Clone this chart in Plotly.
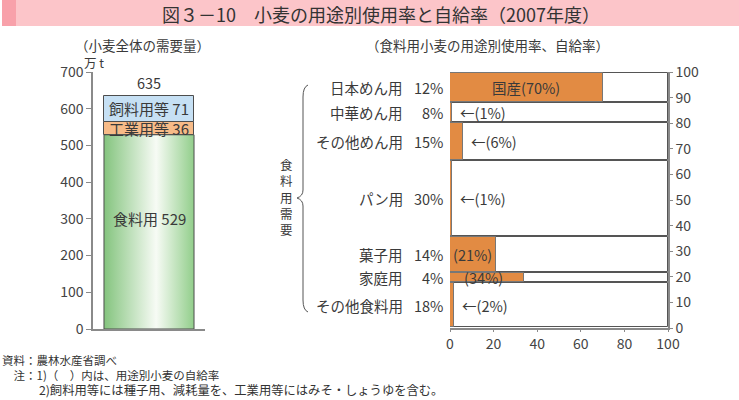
import plotly.graph_objects as go

W, H = 739, 400
FONT = "Noto Sans CJK JP"
TXT = "#3a3a3a"

# ---------- data ----------
# left: total wheat demand (10k t)
seg_names = ["食料用", "工業用等", "飼料用等"]
seg_values = [529, 36, 71]
total_label = 635
left_ticks = [0, 100, 200, 300, 400, 500, 600, 700]

# right: usage shares (%) and self-sufficiency rates (%)
uses = ["日本めん用", "中華めん用", "その他めん用", "パン用", "菓子用", "家庭用", "その他食料用"]
shares = [12, 8, 15, 30, 14, 4, 18]
rates = [70, 1, 6, 1, 21, 34, 2]
right_yticks = [0, 10, 20, 30, 40, 50, 60, 70, 80, 90, 100]
right_xticks = [0, 20, 40, 60, 80, 100]
group_label = "食料用需要"


def px(x):
    return x / W


def py(y):
    return 1 - y / H


fig = go.Figure()

# ---------- left chart ----------
bar_c, bar_w = 0.5, 0.804
food, ind, feed = seg_values
x0, x1 = bar_c - bar_w / 2, bar_c + bar_w / 2
fig.add_trace(go.Scatter(
    x=[x0, x1, x1, x0, x0], y=[0, 0, food, food, 0],
    fill="toself", mode="lines", line=dict(color="#4d4d4d", width=1),
    fillgradient=dict(type="horizontal",
                      colorscale=[[0, "#84c47e"], [0.58, "#f7fbf5"], [1, "#92ce8b"]]),
    xaxis="x", yaxis="y", hoverinfo="skip", showlegend=False))
fig.add_trace(go.Bar(
    x=[bar_c], y=[ind], base=[food], width=bar_w,
    marker=dict(color="#f7bb88", line=dict(color="#4d4d4d", width=1)),
    xaxis="x", yaxis="y", showlegend=False, hoverinfo="skip"))
fig.add_trace(go.Bar(
    x=[bar_c], y=[feed], base=[food + ind], width=bar_w,
    marker=dict(color="#c6e0f4", line=dict(color="#4d4d4d", width=1)),
    xaxis="x", yaxis="y", showlegend=False, hoverinfo="skip"))


def A(**kw):
    kw.setdefault("showarrow", False)
    kw.setdefault("xanchor", "center")
    kw.setdefault("yanchor", "middle")
    return kw


ann = []
ann.append(A(x=bar_c, y=food + ind + feed, text=str(total_label),
             xref="x", yref="y", yanchor="bottom", yshift=0,
             font=dict(size=14.5, color=TXT)))
ann.append(A(x=bar_c, y=food + ind + feed / 2, text=f"{seg_names[2]} {feed}",
             xref="x", yref="y", font=dict(size=15, color=TXT)))
ann.append(A(x=bar_c, y=food + ind / 2, text=f"{seg_names[1]} {ind}",
             xref="x", yref="y", font=dict(size=15, color=TXT)))
ann.append(A(x=bar_c, y=food * 0.57, text=f"{seg_names[0]} {food}",
             xref="x", yref="y", font=dict(size=15, color=TXT)))
ann.append(A(x=px(82), y=py(63), text="万 t", xref="paper", yref="paper",
             xanchor="left", font=dict(size=12.5, color=TXT)))

# ---------- right chart ----------
tot = sum(shares)
h = [s * 100 / tot for s in shares]
tops = []
t = 100.0
for v in h:
    tops.append(t)
    t -= v
centers = [tp - v / 2 for tp, v in zip(tops, h)]
thick = [v - 0.5 for v in h]

fig.add_trace(go.Bar(
    x=[100] * len(uses), y=centers, width=thick, orientation="h",
    marker=dict(color="white", line=dict(color="#555555", width=1)),
    xaxis="x2", yaxis="y2", showlegend=False, hoverinfo="skip"))
fig.add_trace(go.Bar(
    x=rates, y=centers, width=thick, orientation="h",
    marker=dict(color="#e28b43", line=dict(color="#777777", width=1)),
    xaxis="x2", yaxis="y2", showlegend=False, hoverinfo="skip"))

for i, (u, s, r, c) in enumerate(zip(uses, shares, rates, centers)):
    ann.append(A(x=0, y=c, text=u, xref="x2", yref="y2", xanchor="right", xshift=-45,
                 font=dict(size=14.5, color=TXT)))
    ann.append(A(x=0, y=c, text=f"{s}%", xref="x2", yref="y2", xanchor="right", xshift=-5,
                 font=dict(size=14.5, color=TXT)))
    if i == 0:
        txt, xx, anc = f"国産({r}%)", r / 2, "center"
    elif i == 4:
        txt, xx, anc = f"({r}%)", 0.3, "left"
    elif i == 5:
        txt, xx, anc = f"({r}%)", 5.5, "left"
    else:
        txt, xx, anc = f"←({r}%)", r + 2.5, "left"
    ann.append(A(x=xx, y=c, text=txt, xref="x2", yref="y2", xanchor=anc,
                 font=dict(size=14.5, color=TXT)))

# vertical label (stacked characters) and brace
ann.append(A(x=px(286), y=py(197), text="<br>".join(group_label), xref="paper", yref="paper",
             font=dict(size=12.5, color=TXT)))

bx, bt, bb, bm, tip = 303, 85, 312, 198, 297
path = (f"M {px(bx+5)},{py(bt)} Q {px(bx)},{py(bt+2)} {px(bx)},{py(bt+12)} "
        f"L {px(bx)},{py(bm-8)} Q {px(bx)},{py(bm-2)} {px(tip)},{py(bm)} "
        f"Q {px(bx)},{py(bm+2)} {px(bx)},{py(bm+8)} "
        f"L {px(bx)},{py(bb-12)} Q {px(bx)},{py(bb-2)} {px(bx+5)},{py(bb)}")
shapes = [
    dict(type="rect", xref="paper", yref="paper", x0=px(2), x1=1, y0=py(26), y1=py(0),
         fillcolor="#fcc5c9", line=dict(width=0), layer="below"),
    dict(type="rect", xref="paper", yref="paper", x0=px(2), x1=px(16), y0=py(26), y1=py(0),
         fillcolor="#f8a1aa", line=dict(width=0), layer="below"),
    dict(type="path", path=path, xref="paper", yref="paper",
         line=dict(color="#555555", width=1)),
]

# titles
ann.append(A(x=px(381), y=py(14), text="図３－10　小麦の用途別使用率と自給率（2007年度）",
             xref="paper", yref="paper", font=dict(size=18, color="#333333")))
ann.append(A(x=px(142), y=py(45), text="（小麦全体の需要量）", xref="paper", yref="paper",
             font=dict(size=13.5, color=TXT)))
ann.append(A(x=px(487), y=py(45), text="（食料用小麦の用途別使用率、自給率）", xref="paper", yref="paper",
             font=dict(size=13.5, color=TXT)))

# footnotes
notes = ["資料：農林水産省調べ",
         "　注：1)（　）内は、用途別小麦の自給率",
         "　　　2)飼料用等には種子用、減耗量を、工業用等にはみそ・しょうゆを含む。"]
note_sizes = [11.5, 11.5, 12.3]
for k, (n, fs) in enumerate(zip(notes, note_sizes)):
    ann.append(A(x=px(0), y=py(360 + 15 * k), text=n, xref="paper", yref="paper",
                 xanchor="left", font=dict(size=fs, color="#333333")))

axis_common = dict(showgrid=False, zeroline=False, showline=True, linecolor="#8a8a8a",
                   linewidth=1.5, ticks="outside", tickcolor="#8a8a8a", ticklen=5,
                   automargin=False,
                   tickfont=dict(size=14, color="#444444", family=FONT))

fig.update_layout(
    width=W, height=H, margin=dict(l=0, r=0, t=0, b=0, pad=0),
    paper_bgcolor="white", plot_bgcolor="rgba(0,0,0,0)",
    font=dict(family=FONT, color=TXT),
    barmode="overlay", bargap=0, hovermode=False,
    xaxis=dict(domain=[px(93), px(205)], range=[0, 1], showticklabels=False,
               showgrid=False, zeroline=False, showline=True, linecolor="#8a8a8a",
               linewidth=1.5, ticks="", automargin=False),
    yaxis=dict(domain=[py(329), py(72)], range=[0, 700], tickvals=left_ticks,
               anchor="x", **axis_common),
    xaxis2=dict(domain=[px(450), px(668)], range=[0, 100], tickvals=right_xticks,
                anchor="y2", **{**axis_common, "ticklen": 2}),
    yaxis2=dict(domain=[py(328), py(72)], range=[0, 100], tickvals=right_yticks,
                side="right", anchor="x2", **{**axis_common, "ticklen": 3}),
    annotations=ann, shapes=shapes,
)

fig.write_html("out.html", config={"displayModeBar": False},
               post_script="document.body.style.margin='0px';")
